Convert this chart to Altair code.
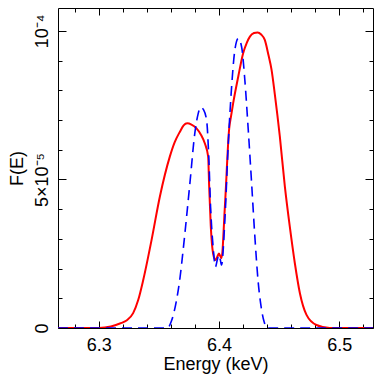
import altair as alt
import pandas as pd

# ---- data ----
red_energy = [6.266, 6.300, 6.310, 6.3175, 6.323, 6.3285, 6.3327, 6.3368, 6.3438, 6.3507,
              6.359, 6.363, 6.3674, 6.3705, 6.3734, 6.377, 6.3812, 6.385, 6.3881, 6.3909,
              6.3917, 6.3931, 6.395, 6.397, 6.3985, 6.3998, 6.401, 6.402, 6.4048, 6.4084,
              6.410, 6.4117, 6.4159, 6.420, 6.423, 6.4256, 6.429, 6.432, 6.435, 6.438,
              6.441, 6.4436, 6.4464, 6.4505, 6.4547, 6.4588, 6.463, 6.4672, 6.4727, 6.481,
              6.492, 6.528]
red_flux_1e5 = [0, 0, 0.05, 0.15, 0.25, 0.5, 0.94, 1.6, 2.96, 4.42,
                5.77, 6.25, 6.61, 6.82, 6.89, 6.85, 6.72, 6.5, 6.22, 5.77,
                4.8, 3.41, 2.51, 2.29, 2.4, 2.51, 2.42, 2.35, 4.08, 6.72,
                7.15, 7.57, 8.46, 9.25, 9.6, 9.81, 9.93, 9.95, 9.88, 9.7,
                9.2, 8.7, 7.85, 6.45, 4.76, 3.41, 2.18, 1.17, 0.44, 0.1,
                0, 0]

blue_energy = [6.266, 6.357, 6.3605, 6.3646, 6.3675, 6.3701, 6.3757, 6.3798, 6.3825, 6.3848,
               6.387, 6.3896, 6.3915, 6.3929, 6.395, 6.397, 6.3985, 6.3998, 6.401, 6.402,
               6.4048, 6.4075, 6.4104, 6.4131, 6.4159, 6.4187, 6.4214, 6.4242, 6.427, 6.4297,
               6.4325, 6.435, 6.4375, 6.440, 6.528]
blue_flux_1e5 = [0, 0, 0.25, 0.94, 1.7, 2.63, 4.87, 6.56, 7.2, 7.43,
                 7.35, 7.0, 5.66, 4.08, 2.74, 2.06, 2.3, 2.46, 2.3, 2.12,
                 3.64, 6.1, 8.12, 9.36, 9.75, 9.47, 8.35, 6.7, 4.9, 3.1,
                 1.55, 0.7, 0.2, 0, 0]

x_domain = [6.266, 6.528]
y_domain = [0, 1.0774e-4]

x_label_values = [6.3, 6.4, 6.5]
x_tick_values = [6.28, 6.30, 6.32, 6.34, 6.36, 6.38, 6.40, 6.42, 6.44, 6.46, 6.48, 6.50, 6.52]
y_label_values = [0, 5e-5, 1e-4]
y_label_texts = ["0", "5×10⁻⁵", "10⁻⁴"]
y_tick_values = [0, 1e-5, 2e-5, 3e-5, 4e-5, 5e-5, 6e-5, 7e-5, 8e-5, 9e-5, 1e-4]

W, H = 315, 320
FONT = "Liberation Sans"

red_df = pd.DataFrame({"E": red_energy, "F": [v * 1e-5 for v in red_flux_1e5]})
blue_df = pd.DataFrame({"E": blue_energy, "F": [v * 1e-5 for v in blue_flux_1e5]})

xs = alt.Scale(domain=x_domain, nice=False, zero=False)
ys = alt.Scale(domain=y_domain, nice=False, zero=False)

y_label_expr = (
    f"datum.value < 2.5e-5 ? '{y_label_texts[0]}' : "
    f"datum.value < 7.5e-5 ? '{y_label_texts[1]}' : '{y_label_texts[2]}'"
)

x_major_test = "abs(datum.value*10 - round(datum.value*10)) < 0.01"
y_major_test = "abs(datum.value/5e-5 - round(datum.value/5e-5)) < 0.01"
x_tick_size = {"condition": {"test": x_major_test, "value": 7}, "value": 4}
y_tick_size = {"condition": {"test": y_major_test, "value": 8}, "value": 4}

# labelled axes (no ticks)
x_lab_axis = alt.Axis(orient="bottom", values=x_label_values, format=".1f", ticks=False,
                      tickSize=0, domain=False, grid=False, labelFontSize=18,
                      labelBaseline="alphabetic", labelPadding=22, labelFlush=False,
                      title="Energy (keV)", titleFontSize=18, titleBaseline="alphabetic",
                      titleY=41, titleFontWeight="normal")
y_lab_axis = alt.Axis(orient="left", values=y_label_values, labelExpr=y_label_expr,
                      ticks=False, tickSize=0, domain=False, grid=False, labelFontSize=18,
                      labelAngle=270, labelAlign="center", labelBaseline="alphabetic",
                      labelPadding=11, labelFlush=False,
                      title="F(E)", titleFontSize=18, titleBaseline="alphabetic",
                      titleX=-36, titleFontWeight="normal")

# inward tick axes
x_bottom_ticks = alt.Axis(orient="top", offset=-H, values=x_tick_values, labels=False,
                          ticks=True, tickSize=x_tick_size, domain=False, grid=False, title="")
y_left_ticks = alt.Axis(orient="right", offset=-W, values=y_tick_values, labels=False,
                        ticks=True, tickSize=y_tick_size, domain=False, grid=False, title="")
x_top_ticks = alt.Axis(orient="bottom", offset=-H, values=x_tick_values, labels=False,
                       ticks=True, tickSize=x_tick_size, domain=False, grid=False, title="")
y_right_ticks = alt.Axis(orient="left", offset=-W, values=y_tick_values, labels=False,
                         ticks=True, tickSize=y_tick_size, domain=False, grid=False, title="")

red = alt.Chart(red_df).mark_line(color="#ff0000", strokeWidth=2, interpolate="monotone",
                                   clip=True).encode(
    x=alt.X("E:Q", scale=xs, axis=x_lab_axis),
    y=alt.Y("F:Q", scale=ys, axis=y_lab_axis),
)
blue = alt.Chart(blue_df).mark_line(color="#0000ff", strokeWidth=1.6, strokeDash=[10, 6],
                                    interpolate="monotone", clip=True).encode(
    x=alt.X("E:Q", scale=xs, axis=x_bottom_ticks),
    y=alt.Y("F:Q", scale=ys, axis=y_left_ticks),
)
ghost = alt.Chart(red_df).mark_line(strokeOpacity=0).encode(
    x=alt.X("E:Q", scale=xs, axis=x_top_ticks),
    y=alt.Y("F:Q", scale=ys, axis=y_right_ticks),
)

chart = (
    alt.layer(red, blue, ghost)
    .resolve_axis(x="independent", y="independent")
    .properties(width=W, height=H, autosize=alt.AutoSizeParams(type="none"),
                padding={"left": 50, "top": 0, "right": 1, "bottom": 46})
    .configure_view(stroke="black", strokeWidth=1)
    .configure_axis(labelFont=FONT, titleFont=FONT, labelColor="black", titleColor="black",
                    tickColor="black", tickWidth=1)
)

chart.save("out.html", embed_options={"renderer": "svg", "actions": False})
